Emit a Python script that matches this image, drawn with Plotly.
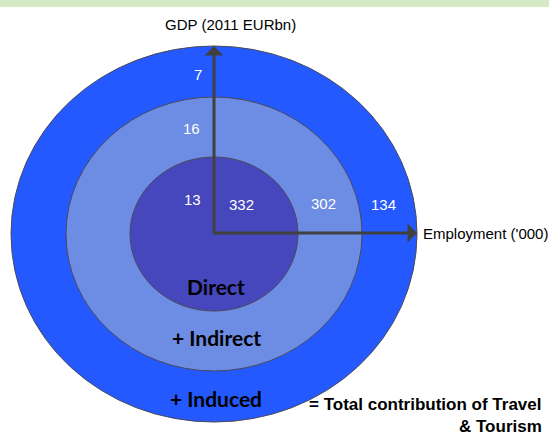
import plotly.graph_objects as go

# Anel: nome e valores (PIB em EURbn, Emprego em milhares)
rings = ["Direct", "+ Indirect", "+ Induced"]
gdp = [13, 16, 7]
employment = [332, 302, 134]
ring_colors = ["#4646bd", "#6d8ce4", "#2459ff"]

x_title = "Employment ('000)"
y_title = "GDP (2011 EURbn)"
total_lines = ["= Total contribution of Travel", "& Tourism"]

# Geometria do diagrama (em pixels da janela)
cx, cy = 214, 234
radii = [(84, 77), (148, 137), (203, 188)]
ring_text_y = [286, 337, 398]
gdp_pos = [(192, 199), (191, 128), (198, 74)]
emp_pos = [(241, 204), (323, 203), (383, 204)]

fig = go.Figure()

# Faixa verde no topo
fig.add_shape(type="rect", x0=0, x1=549, y0=0, y1=7, fillcolor="#d5e9c6",
              line=dict(width=0), layer="below")

# Elipses, de fora para dentro
for i in reversed(range(len(rings))):
    rx, ry = radii[i]
    fig.add_shape(type="circle", x0=cx - rx, x1=cx + rx, y0=cy - ry, y1=cy + ry,
                  fillcolor=ring_colors[i], line=dict(color="#4a4a5a", width=1),
                  layer="below")

# Nomes dos aneis
for i, name in enumerate(rings):
    fig.add_annotation(x=cx + 2, y=ring_text_y[i], text="<b>%s</b>" % name,
                       showarrow=False,
                       font=dict(family="Lato", size=21, color="black"))

# Valores
for i in range(len(rings)):
    fig.add_annotation(x=gdp_pos[i][0], y=gdp_pos[i][1], text=str(gdp[i]),
                       showarrow=False,
                       font=dict(family="Liberation Sans", size=15, color="white"))
    fig.add_annotation(x=emp_pos[i][0], y=emp_pos[i][1], text=str(employment[i]),
                       showarrow=False,
                       font=dict(family="Liberation Sans", size=15, color="white"))

# Eixos com setas
outer_rx, outer_ry = radii[-1]
fig.add_annotation(x=cx, y=cy - outer_ry, ax=cx, ay=cy + 1.5, axref="x", ayref="y",
                   text="", showarrow=True, arrowhead=1, arrowsize=1.05,
                   arrowwidth=3, arrowcolor="#404040", standoff=0)
fig.add_annotation(x=cx + outer_rx, y=cy - 1, ax=cx - 1.5, ay=cy - 1, axref="x", ayref="y",
                   text="", showarrow=True, arrowhead=1, arrowsize=1.05,
                   arrowwidth=3, arrowcolor="#404040", standoff=0)

fig.add_annotation(x=230, y=24, text=y_title, showarrow=False,
                   font=dict(family="Liberation Sans", size=15, color="black"))
fig.add_annotation(x=421, y=233, text=x_title, showarrow=False, xanchor="left",
                   font=dict(family="Liberation Sans", size=15, color="black"))

# Legenda do total, alinhada a direita
fig.add_annotation(x=543, y=404, text="<b>%s</b>" % total_lines[0], showarrow=False,
                   xanchor="right", borderpad=0,
                   font=dict(family="Liberation Sans", size=17, color="black"))
fig.add_annotation(x=543, y=437, text="<b>%s</b>" % total_lines[1], showarrow=False,
                   xanchor="right", yanchor="bottom", borderpad=0,
                   font=dict(family="Liberation Sans", size=17, color="black"))

fig.update_layout(
    width=549, height=437,
    margin=dict(l=0, r=0, t=0, b=0),
    paper_bgcolor="white", plot_bgcolor="white",
    xaxis=dict(range=[0, 549], visible=False, fixedrange=True),
    yaxis=dict(range=[437, 0], visible=False, fixedrange=True),
    showlegend=False,
)

# Remove a margem padrao do body para o grafico ocupar a janela toda
fig.write_html("out.html", config={"displayModeBar": False},
               post_script="document.body.style.margin='0px';")
